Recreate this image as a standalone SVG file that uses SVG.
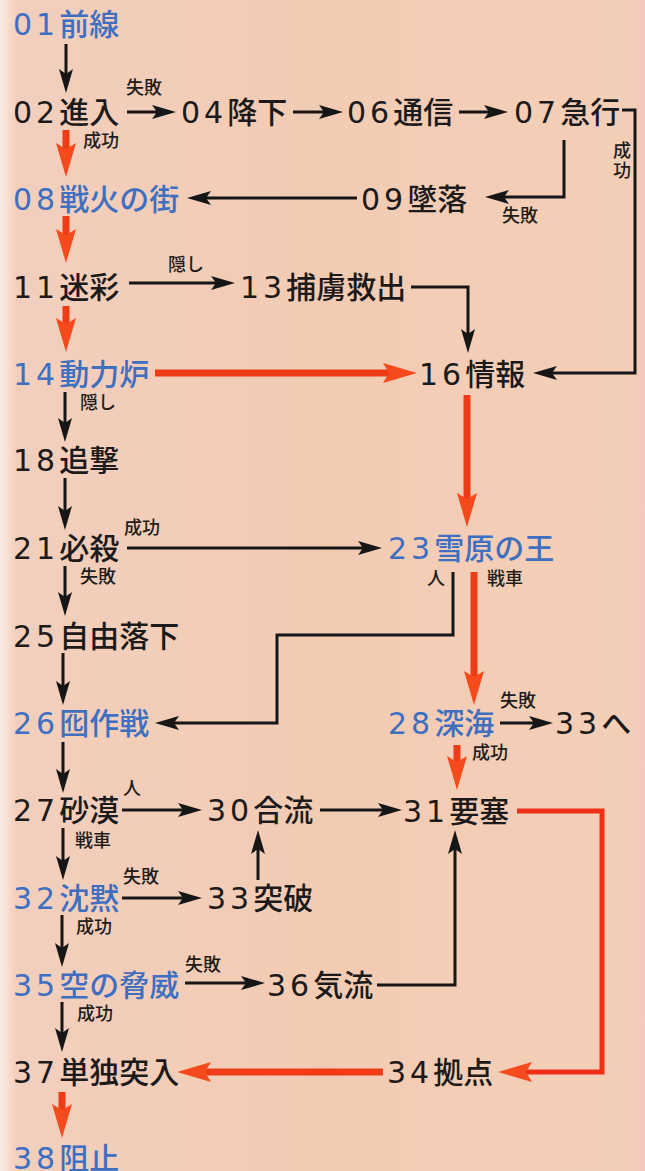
<svg xmlns="http://www.w3.org/2000/svg" width="645" height="1171" viewBox="0 0 645 1171">
<defs>
<linearGradient id="bg" x1="0" y1="0" x2="1" y2="0">
<stop offset="0" stop-color="#fbece6"/>
<stop offset="0.025" stop-color="#f2cfbd"/>
<stop offset="0.5" stop-color="#f2cbb3"/>
<stop offset="0.97" stop-color="#f4cfb8"/>
<stop offset="1" stop-color="#f5c9bd"/>
</linearGradient>
<marker id="ak" viewBox="0 0 24 14" markerUnits="userSpaceOnUse" markerWidth="24" markerHeight="14" refX="16" refY="7" orient="auto">
<path d="M0,0 L24,7 L0,14 L5,7 Z" fill="#161616"/>
</marker>
<marker id="ar" viewBox="0 0 34 20" markerUnits="userSpaceOnUse" markerWidth="34" markerHeight="20" refX="18" refY="10" orient="auto">
<path d="M0,0 L34,10 L0,20 L6,10 Z" fill="#f44a1c"/>
</marker>
<style>
text{font-family:"Noto Sans CJK JP","Noto Sans",sans-serif;font-weight:500}
.n{font-size:30px;fill:#1c1a1a}
.b{fill:#3f6fc0}
.d{font-family:"DejaVu Sans","Noto Sans CJK JP",sans-serif;font-weight:normal;letter-spacing:4px}
.s{font-size:18px;fill:#221c1a}
.k{fill:none;stroke:#161616;stroke-width:3;marker-end:url(#ak)}
.r{fill:none;stroke:#ee3c16;stroke-width:7;marker-end:url(#ar)}
.r5{fill:none;stroke:#ee3016;stroke-width:5;marker-end:url(#ar)}
</style>
</defs>
<rect width="645" height="1171" fill="url(#bg)"/>

<g id="connectors">
<path class="k" d="M66,44 V85"/>
<path class="k" d="M127,112 H168"/>
<path class="k" d="M293,112 H335"/>
<path class="k" d="M459,112 H500"/>
<path class="k" d="M564,140 V197 H493"/>
<path class="k" d="M622,110 H635 V373 H541"/>
<path class="r" d="M66,130 V161"/>
<path class="k" d="M357,198 H195"/>
<path class="r" d="M66,216 V247"/>
<path class="k" d="M129,283 H227"/>
<path class="k" d="M411,287 H468 V345"/>
<path class="r" d="M66,306 V336"/>
<path class="r" d="M155,373 H401"/>
<path class="k" d="M65,392 V434"/>
<path class="k" d="M65,478 V522"/>
<path class="r" d="M467,395 V511"/>
<path class="k" d="M127,548 H374"/>
<path class="k" d="M65,566 V608"/>
<path class="k" d="M453,572 V635 H277 V723 H163"/>
<path class="r" d="M474,572 V689"/>
<path class="k" d="M63,653 V697"/>
<path class="k" d="M500,723 H545"/>
<path class="r" d="M457,745 V774"/>
<path class="k" d="M63,742 V785"/>
<path class="k" d="M122,810 H194"/>
<path class="k" d="M320,810 H394"/>
<path class="k" d="M63,828 V872"/>
<path class="k" d="M122,898 H194"/>
<path class="k" d="M258,880 V838"/>
<path class="r5" d="M517,811 H602 V1072 H514"/>
<path class="k" d="M377,985 H455 V838"/>
<path class="k" d="M62,915 V959"/>
<path class="k" d="M185,983 H257"/>
<path class="k" d="M62,1002 V1044"/>
<path class="r" d="M383,1072 H193"/>
<path class="r" d="M62,1092 V1122"/>
</g>

<g id="edge-labels">
<text class="s" x="126" y="94">失敗</text>
<text class="s" x="83" y="147">成功</text>
<text class="s" x="502" y="222">失敗</text>
<text class="s" x="613" y="157">成</text>
<text class="s" x="613" y="177">功</text>
<text class="s" x="168" y="271">隠し</text>
<text class="s" x="80" y="409">隠し</text>
<text class="s" x="124" y="534">成功</text>
<text class="s" x="80" y="583">失敗</text>
<text class="s" x="427" y="585">人</text>
<text class="s" x="487" y="585">戦車</text>
<text class="s" x="500" y="707">失敗</text>
<text class="s" x="472" y="759">成功</text>
<text class="s" x="123" y="795">人</text>
<text class="s" x="75" y="847">戦車</text>
<text class="s" x="123" y="883">失敗</text>
<text class="s" x="76" y="933">成功</text>
<text class="s" x="185" y="971">失敗</text>
<text class="s" x="77" y="1020">成功</text>
</g>

<g id="n01"><text class="n b" x="13" y="35"><tspan class="d">01</tspan>前線</text></g>
<g id="n02"><text class="n" x="13" y="123"><tspan class="d">02</tspan>進入</text></g>
<g id="n04"><text class="n" x="181" y="123"><tspan class="d">04</tspan>降下</text></g>
<g id="n06"><text class="n" x="347" y="123"><tspan class="d">06</tspan>通信</text></g>
<g id="n07"><text class="n" x="514" y="123"><tspan class="d">07</tspan>急行</text></g>
<g id="n08"><text class="n b" x="13" y="210"><tspan class="d">08</tspan>戦火の街</text></g>
<g id="n09"><text class="n" x="361" y="210"><tspan class="d">09</tspan>墜落</text></g>
<g id="n11"><text class="n" x="13" y="298"><tspan class="d">11</tspan>迷彩</text></g>
<g id="n13"><text class="n" x="240" y="298"><tspan class="d">13</tspan>捕虜救出</text></g>
<g id="n14"><text class="n b" x="13" y="385"><tspan class="d">14</tspan>動力炉</text></g>
<g id="n16"><text class="n" x="419" y="385"><tspan class="d">16</tspan>情報</text></g>
<g id="n18"><text class="n" x="13" y="471"><tspan class="d">18</tspan>追撃</text></g>
<g id="n21"><text class="n" x="13" y="559"><tspan class="d">21</tspan>必殺</text></g>
<g id="n23"><text class="n b" x="388" y="559"><tspan class="d">23</tspan>雪原の王</text></g>
<g id="n25"><text class="n" x="13" y="647"><tspan class="d">25</tspan>自由落下</text></g>
<g id="n26"><text class="n b" x="13" y="734"><tspan class="d">26</tspan>囮作戦</text></g>
<g id="n28"><text class="n b" x="388" y="734"><tspan class="d">28</tspan>深海</text></g>
<g id="n33to"><text class="n" x="555" y="734"><tspan class="d">33</tspan>へ</text></g>
<g id="n27"><text class="n" x="13" y="821"><tspan class="d">27</tspan>砂漠</text></g>
<g id="n30"><text class="n" x="207" y="821"><tspan class="d">30</tspan>合流</text></g>
<g id="n31"><text class="n" x="403" y="822"><tspan class="d">31</tspan>要塞</text></g>
<g id="n32"><text class="n b" x="13" y="909"><tspan class="d">32</tspan>沈黙</text></g>
<g id="n33"><text class="n" x="207" y="909"><tspan class="d">33</tspan>突破</text></g>
<g id="n35"><text class="n b" x="13" y="996"><tspan class="d">35</tspan>空の脅威</text></g>
<g id="n36"><text class="n" x="267" y="996"><tspan class="d">36</tspan>気流</text></g>
<g id="n37"><text class="n" x="13" y="1083"><tspan class="d">37</tspan>単独突入</text></g>
<g id="n34"><text class="n" x="387" y="1083"><tspan class="d">34</tspan>拠点</text></g>
<g id="n38"><text class="n b" x="13" y="1169"><tspan class="d">38</tspan>阻止</text></g>
</svg>
